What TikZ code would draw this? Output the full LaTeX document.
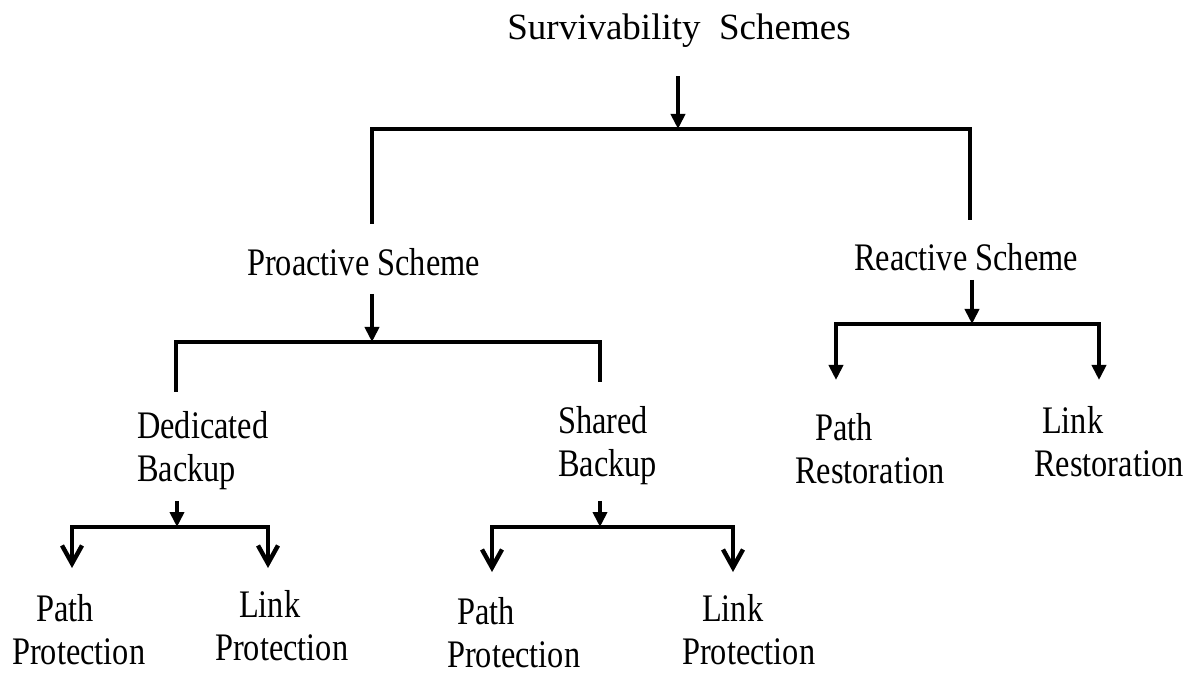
\documentclass[tikz,border=0pt]{standalone}
\usepackage{fontspec}
\setmainfont{Liberation Serif}
\newfontfamily\lblfont{Liberation Serif}[FakeStretch=0.83]
\usetikzlibrary{arrows.meta}

\begin{document}
\begin{tikzpicture}[x=0.5pt, y=-0.5pt, line width=2.2pt,
        lbl/.style={inner sep=0pt, anchor=north west, align=left, font=\lblfont\fontsize{19.5}{21.5}\selectfont},
        tri/.style={-{Triangle[width=7pt,length=7.5pt]}},
        bitri/.style={{Triangle[width=7pt,length=7.5pt]}-{Triangle[width=7pt,length=7.5pt]}},
        bibarb/.style={{Straight Barb[width=10pt,length=9pt]}-{Straight Barb[width=10pt,length=9pt]}}]
        \useasboundingbox (0,0) rectangle (1199,673);

        % Labels
        \node (title) [anchor=north, inner sep=0pt, font=\fontsize{18.5}{22}\selectfont] at (679,12) {Survivability\ \ Schemes};
        \node (pro) [lbl] at (245,246) {Proactive Scheme};
        \node (rea) [lbl] at (852,241) {Reactive Scheme};
        \node (ded) [lbl] at (135,409) {Dedicated\\Backup};
        \node (shb) [lbl] at (556,404) {Shared\\Backup};
        \node (dpp) [lbl] at (10,592) {\hspace*{12pt}Path\\Protection};
        \node (dlp) [lbl] at (213,588) {\hspace*{12pt}Link\\Protection};
        \node (spp) [lbl] at (445,595) {\hspace*{5pt}Path\\Protection};
        \node (slp) [lbl] at (680,592) {\hspace*{10pt}Link\\Protection};
        \node (prr) [lbl] at (793,411) {\hspace*{10pt}Path\\Restoration};
        \node (lrr) [lbl] at (1032,404) {\hspace*{4pt}Link\\Restoration};

        % Junctions
        \coordinate (j0) at (678,129);
        \coordinate (l0) at (372,129);
        \coordinate (r0) at (970,129);
        \coordinate (j1) at (372,342);
        \coordinate (l1) at (176,342);
        \coordinate (r1) at (600,342);
        \coordinate (j2) at (972,324);
        \coordinate (l2) at (836,324);
        \coordinate (r2) at (1099,324);
        \coordinate (j3) at (177,527);
        \coordinate (l3) at (72,527);
        \coordinate (r3) at (268,527);
        \coordinate (j4) at (600,527);
        \coordinate (l4) at (492,527);
        \coordinate (r4) at (733,527);

        % Connectors
        \draw[tri, shorten <=13pt] (title.south -| j0) -- (j0);
        \draw[shorten <=11pt, shorten >=10.5pt] (pro.north -| l0) -- (l0) -- (r0) -- (rea.north -| r0);

        \draw[tri, shorten <=8pt] (pro.south -| j1) -- (j1);
        \draw[shorten <=8.5pt, shorten >=11pt] (ded.north -| l1) -- (l1) -- (r1) -- (shb.north -| r1);

        \draw[tri, shorten <=3.5pt] (rea.south -| j2) -- (j2);
        \draw[bitri, shorten <=15.5pt, shorten >=12pt] (prr.north -| l2) -- (l2) -- (r2) -- (lrr.north -| r2);

        \draw[tri, shorten <=4.5pt] (ded.south -| j3) -- (j3);
        \draw[bibarb, shorten <=12pt, shorten >=10pt] (dpp.north -| l3) -- (l3) -- (r3) -- (dlp.north -| r3);

        \draw[tri, shorten <=7pt] (shb.south -| j4) -- (j4);
        \draw[bibarb, shorten <=11.5pt, shorten >=10pt] (spp.north -| l4) -- (l4) -- (r4) -- (slp.north -| r4);
\end{tikzpicture}
\end{document}
